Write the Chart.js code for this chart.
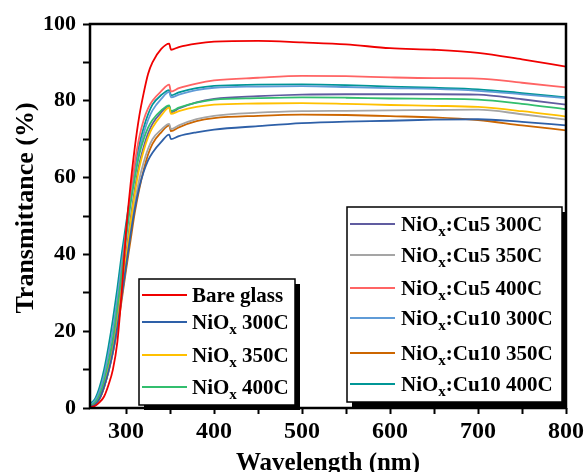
<!DOCTYPE html>
<html>
<head>
<meta charset="utf-8">
<script src="https://cdn.jsdelivr.net/npm/chart.js@4.4.0/dist/chart.umd.min.js"></script>
<style>
    html, body { margin: 0; padding: 0; background: #fff; }
</style>
</head>
<body>
<canvas id="trans_chart" width="587" height="472"></canvas>
<script>
/* global Chart */

// wavelength (nm) shared by every spectrum
const wavelength = [259, 265, 270, 275, 280, 285, 290, 295, 300, 305, 310, 315, 320, 325, 330, 340, 349, 351, 360, 380, 400, 450, 500, 550, 600, 650, 700, 750, 800];

// transmittance (%)
const bare_glass  = [0.2, 0.6, 1.5, 3, 6, 10, 17, 30, 46, 58, 68, 76, 82, 87, 90, 93.5, 94.9, 93.3, 94.0, 94.9, 95.4, 95.6, 95.2, 94.7, 93.7, 93.3, 92.5, 90.8, 88.9];
const nio_300     = [0.3, 1, 2.5, 5.5, 9.5, 14.5, 21, 29, 37, 45, 52, 57.5, 61.5, 64.5, 66.5, 69.3, 71.2, 70.0, 70.8, 71.8, 72.5, 73.4, 74.2, 74.6, 74.8, 75.1, 75.2, 74.5, 73.6];
const nio_350     = [0.3, 1, 2.5, 5.5, 10, 15, 22, 30.5, 39, 48, 56, 62.5, 67, 70.5, 73, 76.2, 78.2, 76.6, 77.3, 78.4, 79, 79.3, 79.4, 79.2, 78.9, 78.7, 78.4, 77.3, 75.9];
const nio_400     = [0.5, 1.5, 3.5, 7, 12, 18, 26, 35, 44, 53, 60, 66, 70, 73, 75, 77.5, 78.8, 77.3, 78.2, 79.5, 80.3, 80.7, 80.9, 80.8, 80.6, 80.5, 80.3, 79.2, 77.8];
const cu5_300     = [0.3, 1, 2.5, 5.5, 10, 15.5, 22.5, 31, 40, 49, 57, 63.5, 68, 71.5, 74, 77, 78.6, 77.0, 78, 79.6, 80.5, 81.2, 81.6, 81.7, 81.7, 81.7, 81.6, 80.4, 79.0];
const cu5_350     = [0.3, 1, 2.5, 5.5, 9.5, 14.5, 21, 29, 37.5, 46, 53.5, 59.5, 64, 67.5, 70, 72.5, 74.0, 72.6, 73.6, 75.2, 76.1, 76.9, 77.3, 77.4, 77.5, 77.6, 77.7, 76.5, 75.1];
const cu5_400     = [0.4, 1.2, 3, 6.5, 11.5, 17.5, 25, 35, 46, 56, 64, 70.5, 75, 78, 80, 82.5, 84.2, 82.4, 83.3, 84.5, 85.3, 86, 86.5, 86.4, 86.1, 85.9, 85.8, 84.7, 83.5];
const cu10_300    = [0.8, 2, 4.5, 8.5, 14, 20.5, 28.5, 37.5, 46, 54, 61, 67, 71.5, 75, 77.5, 80.5, 82.3, 80.9, 81.6, 82.8, 83.4, 83.7, 83.8, 83.6, 83.3, 83.1, 82.6, 81.7, 80.7];
const cu10_350    = [0.2, 0.8, 2.5, 5.5, 9.5, 14.5, 20.5, 28, 36, 43.5, 51, 57, 62, 66, 68.8, 71.8, 73.6, 72.1, 73.1, 74.7, 75.5, 76.1, 76.4, 76.3, 76.0, 75.7, 75.0, 73.6, 72.3];
const cu10_400    = [1, 2.5, 5.5, 10, 16, 23, 31, 40, 48, 55.5, 62, 68.5, 73, 76.5, 79, 81.5, 82.8, 81.4, 82.2, 83.3, 83.9, 84.2, 84.3, 84.1, 83.7, 83.4, 83, 82, 80.9];

const series_labels = ['Bare glass', 'NiOx 300C', 'NiOx 350C', 'NiOx 400C',
    'NiOx:Cu5 300C', 'NiOx:Cu5 350C', 'NiOx:Cu5 400C',
    'NiOx:Cu10 300C', 'NiOx:Cu10 350C', 'NiOx:Cu10 400C'];
const series_values = [bare_glass, nio_300, nio_350, nio_400, cu5_300, cu5_350, cu5_400, cu10_300, cu10_350, cu10_400];
const series_colors = ['rgb(240,0,0)', 'rgb(46,96,168)', 'rgb(255,192,0)', 'rgb(50,190,110)',
    'rgb(96,92,160)', 'rgb(165,165,165)', 'rgb(255,100,100)',
    'rgb(95,155,215)', 'rgb(204,102,0)', 'rgb(0,150,150)'];

const x_ticks = [300, 350, 400, 450, 500, 550, 600, 650, 700, 750, 800];
const y_ticks = [0, 10, 20, 30, 40, 50, 60, 70, 80, 90, 100];

const serif = '"Liberation Serif", "Times New Roman", serif';

// two framed legends with a drop shadow, like the origin plot
const legend_boxes = [
    {items: [0, 1, 2, 3], left: 139, top: 279, right: 295, bottom: 405, rows: [295, 322, 355, 387], lineX: 142, textX: 192},
    {items: [4, 5, 6, 7, 8, 9], left: 347, top: 207, right: 562, bottom: 402, rows: [224, 255, 288, 318, 353, 384], lineX: 350, textX: 401}
];

function drawLabel(ctx, text, x, baseline) {
    ctx.font = 'bold 21px ' + serif;
    if (text.indexOf('NiOx') !== 0) {
        ctx.fillText(text, x, baseline);
        return;
    }
    ctx.fillText('NiO', x, baseline);
    x += ctx.measureText('NiO').width;
    ctx.font = 'bold 15px ' + serif;
    ctx.fillText('x', x, baseline + 5);
    x += ctx.measureText('x').width;
    ctx.font = 'bold 21px ' + serif;
    ctx.fillText(text.substring(4), x, baseline);
}

const framePlugin = {
    id: 'frame',
    afterDatasetsDraw: function (chart) {
        var ctx = chart.ctx, a = chart.chartArea;
        ctx.save();
        ctx.strokeStyle = '#000';
        ctx.lineWidth = 2.5;
        ctx.strokeRect(a.left, a.top, a.right - a.left, a.bottom - a.top);
        ctx.restore();
    },
    afterDraw: function (chart) {
        var ctx = chart.ctx;
        ctx.save();
        legend_boxes.forEach(function (box) {
            var w = box.right - box.left, h = box.bottom - box.top;
            ctx.fillStyle = '#000';
            ctx.fillRect(box.left + 5, box.top + 5, w, h);
            ctx.fillStyle = '#fff';
            ctx.fillRect(box.left, box.top, w, h);
            ctx.strokeStyle = '#000';
            ctx.lineWidth = 1.5;
            ctx.strokeRect(box.left, box.top, w, h);

            box.items.forEach(function (idx, i) {
                var ds = chart.data.datasets[idx];
                var y = box.rows[i];
                ctx.strokeStyle = ds.borderColor;
                ctx.lineWidth = 2;
                ctx.beginPath();
                ctx.moveTo(box.lineX, y);
                ctx.lineTo(box.lineX + 45, y);
                ctx.stroke();
                ctx.fillStyle = '#000';
                ctx.textBaseline = 'alphabetic';
                drawLabel(ctx, ds.label, box.textX, y + 7);
            });
        });

        // y axis title, placed by hand (origin centres it a bit above the plot middle)
        ctx.translate(26, 208);
        ctx.rotate(-Math.PI / 2);
        ctx.font = 'bold 26px ' + serif;
        ctx.fillStyle = '#000';
        ctx.textAlign = 'center';
        ctx.textBaseline = 'middle';
        ctx.fillText('Transmittance (%)', 0, 0);
        ctx.restore();
    }
};

var datasets = series_values.map(function (values, i) {
    return {
        label: series_labels[i],
        data: values.map(function (v, j) { return {x: wavelength[j], y: v}; }),
        borderColor: series_colors[i],
        backgroundColor: series_colors[i],
        borderWidth: 1.8,
        pointRadius: 0,
        fill: false,
        cubicInterpolationMode: 'monotone'
    };
});

var config = {
    type: 'line',
    data: {datasets: datasets},
    options: {
        responsive: false,
        animation: false,
        layout: {padding: {top: 24, right: 20, bottom: 0, left: 0}},
        plugins: {
            legend: {display: false},
            tooltip: {enabled: false}
        },
        scales: {
            x: {
                type: 'linear',
                min: 259,
                max: 800,
                afterBuildTicks: function (s) { s.ticks = x_ticks.map(function (v) { return {value: v}; }); },
                afterFit: function (s) { s.height = 64; },
                border: {display: false},
                grid: {drawOnChartArea: false, drawTicks: true, tickLength: 6, tickColor: '#000', tickWidth: 2},
                ticks: {
                    color: '#000',
                    font: {family: serif, weight: 'bold', size: 24},
                    padding: 3,
                    maxRotation: 0,
                    autoSkip: false,
                    callback: function (v) { return v % 100 === 0 ? v : ''; }
                },
                title: {
                    display: true,
                    text: 'Wavelength (nm)',
                    color: '#000',
                    font: {family: serif, weight: 'bold', size: 25, lineHeight: 1},
                    padding: {top: 0, bottom: -4}
                }
            },
            y: {
                min: 0,
                max: 100,
                afterBuildTicks: function (s) { s.ticks = y_ticks.map(function (v) { return {value: v}; }); },
                afterFit: function (s) { s.width = 90; },
                border: {display: false},
                grid: {drawOnChartArea: false, drawTicks: true, tickLength: 7, tickColor: '#000', tickWidth: 2},
                ticks: {
                    color: '#000',
                    font: {family: serif, weight: 'bold', size: 22},
                    padding: 7,
                    callback: function (v) { return v % 20 === 0 ? v : ''; }
                }
            }
        }
    },
    plugins: [framePlugin]
};

var transChart = new Chart(document.getElementById('trans_chart'), config);
</script>
</body>
</html>
